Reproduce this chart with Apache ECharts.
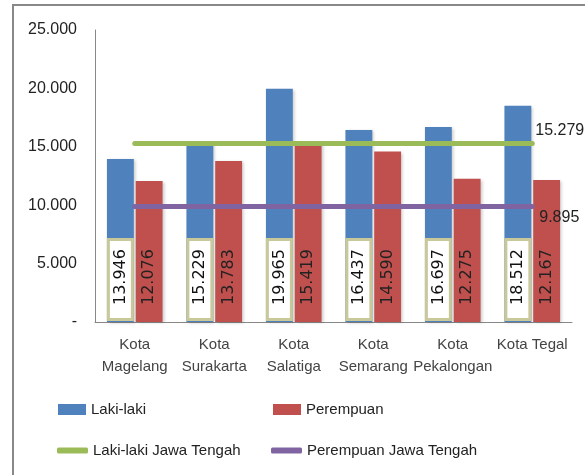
<!DOCTYPE html>
<html><head><meta charset="utf-8">
<script src="https://cdn.jsdelivr.net/npm/echarts@6/dist/echarts.min.js"></script>
<style>html,body{margin:0;padding:0;background:#fff}#c{width:585px;height:475px}</style>
</head><body><div id="c"></div>
<script>
var categories = ['Kota\nMagelang','Kota\nSurakarta','Kota\nSalatiga','Kota\nSemarang','Kota\nPekalongan','Kota Tegal'];
var lakiLaki = [13946, 15229, 19965, 16437, 16697, 18512];
var perempuan = [12076, 13783, 15419, 14590, 12275, 12167];
var lakiJateng = [15279, 15279, 15279, 15279, 15279, 15279];
var perempuanJateng = [9895, 9895, 9895, 9895, 9895, 9895];
var yTicks = [0, 5000, 10000, 15000, 20000, 25000];

function fmt(v){
  if (v === 0) return '-';
  var s = String(Math.round(v));
  return s.replace(/\B(?=(\d{3})+(?!\d))/g, '.');
}
var FONT = 'Liberation Sans';
var chart = echarts.init(document.getElementById('c'), null, {renderer:'canvas'});
var barLabelBase = {
  show: true, position: 'insideBottom', distance: 4, rotate: 90,
  align: 'left', verticalAlign: 'middle',
  fontFamily: 'DejaVu Sans', fontSize: 16, lineHeight: 17, color: '#111',
  padding: [2, 8, 2, 13],
  formatter: function(p){ return fmt(p.value); }
};
function legendAt(name, left, top, h, icon){
  return {
    data: [{name: name}], left: left, top: top, padding: 0,
    itemWidth: h > 8 ? 28 : 31, itemHeight: h, icon: icon,
    selectedMode: false,
    textStyle: {fontFamily: FONT, fontSize: 15, color: '#222'}
  };
}
chart.setOption({
  animation: false,
  backgroundColor: '#fff',
  graphic: [{type:'rect', shape:{x:13, y:5, width:700, height:600}, style:{fill:'none', stroke:'#888', lineWidth:2}, silent:true}],
  grid: {left: 95, right: 13, top: 30, bottom: 153},
  legend: [
    legendAt('Laki-laki', 58, 402, 11, 'rect'),
    legendAt('Perempuan', 273, 402, 11, 'rect'),
    legendAt('Laki-laki Jawa Tengah', 57, 443, 6, 'roundRect'),
    legendAt('Perempuan Jawa Tengah', 271, 443, 6, 'roundRect')
  ],
  xAxis: {
    type: 'category', data: categories,
    axisLine: {lineStyle: {color: '#888', width: 1}},
    axisTick: {show: false},
    axisLabel: {fontFamily: FONT, fontSize: 15, color: '#444', lineHeight: 22, margin: 12, interval: 0}
  },
  yAxis: {
    type: 'value', min: 0, max: 25000, interval: 5000,
    axisLine: {show: true, lineStyle: {color: '#888', width: 1}},
    axisTick: {show: false},
    splitLine: {show: false},
    axisLabel: {fontFamily: FONT, fontSize: 16, color: '#222', margin: 18,
      formatter: function(v){ return fmt(v); }}
  },
  series: [
    {name: 'Laki-laki', type: 'bar', data: lakiLaki, barCategoryGap: '30%', barGap: '7%',
     itemStyle: {color: '#4f81bd', shadowColor: 'rgba(0,0,0,0.2)', shadowBlur: 3, shadowOffsetX: 2, shadowOffsetY: 1},
     label: Object.assign({}, barLabelBase, {backgroundColor: '#fff', borderColor: '#c8c89a', borderWidth: 3})},
    {name: 'Perempuan', type: 'bar', data: perempuan,
     itemStyle: {color: '#c0504d', shadowColor: 'rgba(0,0,0,0.2)', shadowBlur: 3, shadowOffsetX: 2, shadowOffsetY: 1},
     label: Object.assign({}, barLabelBase, {color: '#222'})},
    {name: 'Laki-laki Jawa Tengah', type: 'line', data: lakiJateng, symbol: 'none', z: 5,
     itemStyle: {color: '#9bbb59'},
     lineStyle: {color: '#9bbb59', width: 5, cap: 'round'},
     endLabel: {show: true, distance: 3, offset: [0, -13], fontFamily: FONT, fontSize: 16, color: '#222',
       formatter: function(p){ return fmt(p.value); }}},
    {name: 'Perempuan Jawa Tengah', type: 'line', data: perempuanJateng, symbol: 'none', z: 5,
     itemStyle: {color: '#8064a2'},
     lineStyle: {color: '#8064a2', width: 5, cap: 'round'},
     endLabel: {show: true, distance: 7, offset: [0, 11], fontFamily: FONT, fontSize: 16, color: '#222',
       formatter: function(p){ return fmt(p.value); }}}
  ]
});
</script></body></html>
